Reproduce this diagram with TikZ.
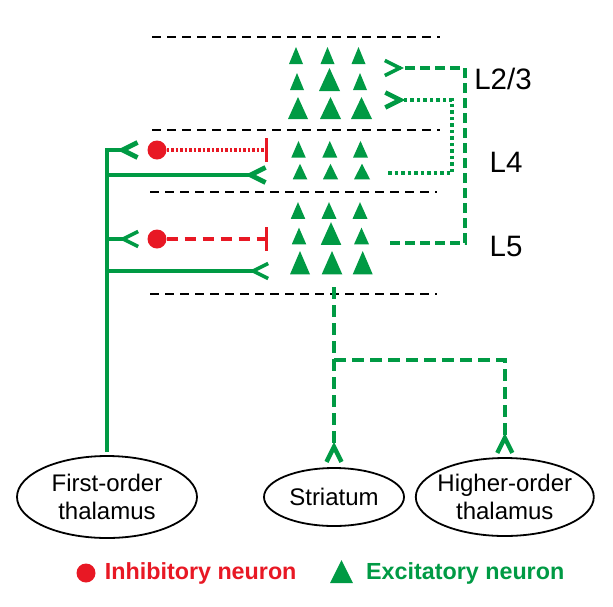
\documentclass[tikz,border=0pt]{standalone}
\usepackage{fontspec}
\setmainfont{Liberation Sans}
\usetikzlibrary{shapes}
\usetikzlibrary{arrows.meta}
\usetikzlibrary{positioning}
\usetikzlibrary{calc}
\definecolor{excgreen}{RGB}{0,154,68}
\definecolor{inhred}{RGB}{232,24,36}

\begin{document}
\begin{tikzpicture}[x=1pt,y=-1pt,>={Straight Barb[reversed,length=15pt,width=15pt]}]
        \tikzstyle{region}=[draw, ellipse, line width=1.8pt, inner sep=0pt, align=center, font=\fontsize{24}{28}\selectfont]
        \tikzstyle{layer}=[font=\fontsize{29.5}{32}\selectfont]
        \tikzstyle{inh}=[circle, fill=inhred, inner sep=0pt, minimum size=19pt]
        \tikzstyle{border}=[line width=2.2pt, dash pattern=on 9pt off 6pt]
        \tikzstyle{thal}=[excgreen, line width=4.8pt]
        \useasboundingbox (0,0) rectangle (613,606);
        % cortical layers
        \draw[border] (152,37) -- (440,37);
        \draw[border] (152,130) -- (440,130);
        \draw[border] (150,192) -- (437,192);
        \draw[border] (150,294) -- (437,294);
        \node[layer] (l23) at (503,79) {L2/3};
        \node[layer] (l4) at (506,162) {L4};
        \node[layer] (l5) at (506,246) {L5};
        % excitatory neurons
        \foreach \x/\y/\w/\h in {296/55.5/14/17, 327.5/55.5/14/17, 358.5/55.5/14/17,
                297/81.5/14/17, 329.5/79.5/21/23, 360/81.5/14/17,
                298/108/20/22, 330.5/108/21/22, 361.5/108/21/22,
                298.5/149.3/14.5/16.7, 329.8/149.3/15/16.7, 360.5/149.3/15/16.7,
                300/171.5/14.5/15.5, 330.5/171.5/15/15.5, 362/171.5/16/15.5,
                298/210.5/14.5/16.7, 329/210.5/15/16.7, 360/210.5/15/16.7,
                299/236/14.5/16.7, 331/233.5/20.5/22.7, 361.5/236/15/16.7,
                300/262.7/20/23.3, 332/262.7/20.6/23.3, 362.7/262.7/20/23.3}
          \fill[excgreen] ({\x-\w/2},{\y+\h/2}) -- ({\x+\w/2},{\y+\h/2}) -- (\x,{\y-\h/2}) -- cycle;
        % targets
        \node[region, minimum width=180pt, minimum height=82pt] (fot) at (107,497) {First-order\\thalamus};
        \node[region, minimum width=140pt, minimum height=58pt] (str) at (334,497) {Striatum};
        \node[region, right=10pt of str, inner xsep=-5pt, minimum width=178pt, minimum height=78pt] (hot) {Higher-order\\thalamus};
        % thalamic input
        \coordinate (f4a) at (140,150);
        \coordinate (f4b) at (268,175);
        \coordinate (f5a) at (140,239);
        \coordinate (f5b) at (270,271);
        \path [->,draw,thal] ([yshift=3pt]fot.north) |- (f4a);
        \path [->,draw,thal] (fot.north |- f4b) -- (f4b);
        \path [->,draw,thal,line width=3.6pt] (fot.north |- f5a) -- (f5a);
        \path [->,draw,thal,line width=3.6pt] (fot.north |- f5b) -- (f5b);
        % inhibitory neurons
        \node[inh] (i4) at (157,150) {};
        \node[inh] (i5) at (157,239) {};
        \coordinate (b4) at (268,150);
        \coordinate (b5) at (268,239);
        \path [-{Bar[width=24pt,line width=3pt]},draw,inhred,line width=3.6pt,dash pattern=on 2.5pt off 2pt] (i4) -- (b4);
        \path [-{Bar[width=24pt,line width=3pt]},draw,inhred,line width=3.6pt,dash pattern=on 11pt off 7pt] (i5) -- (b5);
        % feedback to L2/3
        \coordinate (d5) at (390,243);
        \coordinate (c5) at (465,68);
        \coordinate (t5) at (383,68);
        \coordinate (d4) at (388,173);
        \coordinate (c4) at (452,100);
        \coordinate (t4) at (383,100);
        \path [->,draw,excgreen,line width=3.6pt,dash pattern=on 10pt off 5pt] (d5) -| (c5) -- (t5);
        \path [->,draw,excgreen,line width=4.6pt,dash pattern=on 3.5pt off 3pt] (d4) -| (c4) -- (t4);
        % L5 output
        \coordinate (o5) at (334,287);
        \coordinate (br) at (334,360);
        \path [->,draw,excgreen,line width=4.4pt,dash pattern=on 12pt off 6pt] (o5) -- ([yshift=3pt]str.north);
        \path [->,draw,excgreen,line width=4.4pt,dash pattern=on 12pt off 6pt] (br) -| ([yshift=2pt]hot.north);
        % legend
        \node[inh] (kinh) at (86,573) {};
        \node[right=9pt of kinh, inner sep=0pt, text=inhred, font=\fontsize{23.3}{26}\selectfont\bfseries] (kinht) {Inhibitory neuron};
        \coordinate (kexc) at (341.5,571.5);
        \fill[excgreen] ($(kexc)+(-11.5,11.5)$) -- ($(kexc)+(11.5,11.5)$) -- ($(kexc)+(0,-11.5)$) -- cycle;
        \node[anchor=west, inner sep=0pt, text=excgreen, font=\fontsize{23.3}{26}\selectfont\bfseries] (kexct) at (366,573) {Excitatory neuron};
      \end{tikzpicture}
\end{document}
